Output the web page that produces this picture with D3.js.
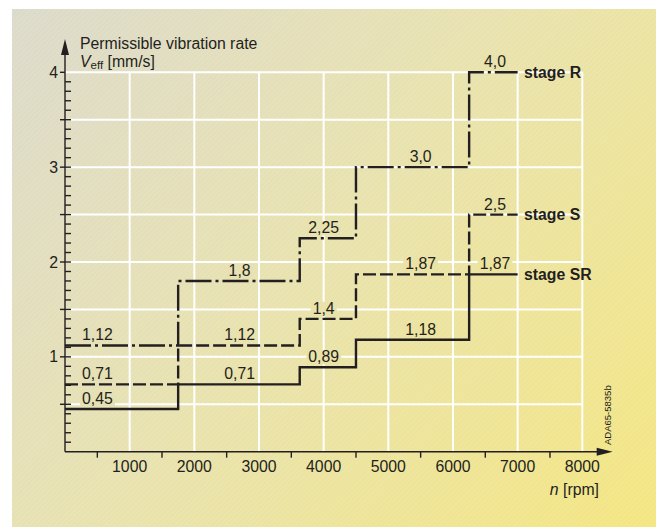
<!DOCTYPE html>
<html>
<head>
<meta charset="utf-8">
<script src="https://cdn.jsdelivr.net/npm/d3@7"></script>
<style>
  body { margin: 0; background: #fff; }
  text { font-family: "Liberation Sans", Arial, sans-serif; fill: #231f20; }
</style>
</head>
<body>
<div id="chart"></div>
<script>
// values
var rpmBreaks = [0, 1750, 3630, 4500, 6250, 7000];
var stageNames = ["stage R", "stage S", "stage SR"];
var stageR = [1.12, 1.8, 2.25, 3.0, 4.0];
var stageS = [0.71, 1.12, 1.4, 1.87, 2.5];
var stageSR = [0.45, 0.71, 0.89, 1.18, 1.87];
var labelRpm = [500, 2700, 4000, 5500, 6650];
var xTicks = [1000, 2000, 3000, 4000, 5000, 6000, 7000, 8000];
var yTicks = [1, 2, 3, 4];

var width = 656, height = 527;
var fs = 15.8;
var svg = d3.select("#chart").append("svg")
    .attr("width", width)
    .attr("height", height);

var defs = svg.append("defs");
var grad = defs.append("linearGradient").attr("id", "bg")
    .attr("gradientUnits", "userSpaceOnUse")
    .attr("x1", 12).attr("y1", 9).attr("x2", 656).attr("y2", 527);
grad.append("stop").attr("offset", 0).attr("stop-color", "#dcdacb");
grad.append("stop").attr("offset", 0.45).attr("stop-color", "#e8e2b0");
grad.append("stop").attr("offset", 1).attr("stop-color", "#f4e682");

var hatch = defs.append("pattern").attr("id", "hatch")
    .attr("patternUnits", "userSpaceOnUse")
    .attr("width", 5).attr("height", 5);
hatch.append("path").attr("d", "M0,5 L5,0 M-1,1 L1,-1 M4,6 L6,4")
    .attr("stroke", "#ffffff").attr("stroke-opacity", 0.18).attr("stroke-width", 0.7);

svg.append("rect").attr("x", 12).attr("y", 9).attr("width", width - 12).attr("height", height - 9)
    .attr("fill", "url(#bg)");
svg.append("rect").attr("x", 12).attr("y", 9).attr("width", width - 12).attr("height", height - 9)
    .attr("fill", "url(#hatch)");

var x = d3.scaleLinear().domain([0, 8000]).range([65, 582.3]);
var y = d3.scaleLinear().domain([0, 4]).range([451.7, 72.3]);

// white grid
var grid = svg.append("g").attr("stroke", "#ffffff").attr("stroke-width", 2);
grid.selectAll("line.h").data(d3.range(0.5, 4.01, 0.5)).enter().append("line")
    .attr("x1", x(0)).attr("x2", x(8000))
    .attr("y1", function (d) { return y(d); }).attr("y2", function (d) { return y(d); });
grid.selectAll("line.v").data(xTicks).enter().append("line")
    .attr("x1", function (d) { return x(d); }).attr("x2", function (d) { return x(d); })
    .attr("y1", y(0)).attr("y2", y(4));

// axes
var axes = svg.append("g").attr("stroke", "#231f20").attr("stroke-width", 1.4).attr("fill", "none");
axes.append("line").attr("x1", x(0)).attr("x2", x(0)).attr("y1", y(0)).attr("y2", 52);
axes.append("line").attr("x1", x(0)).attr("x2", 600).attr("y1", y(0)).attr("y2", y(0));
svg.append("path").attr("d", "M" + x(0) + ",39 L" + (x(0) + 4) + ",55 L" + (x(0) - 4) + ",55 Z")
    .attr("fill", "#231f20");
svg.append("path").attr("d", "M612.7," + y(0) + " L596.7," + (y(0) - 4) + " L596.7," + (y(0) + 4) + " Z")
    .attr("fill", "#231f20");

// y minor ticks (right) and half ticks (left)
axes.selectAll("line.ym").data(d3.range(1, 40)).enter().append("line")
    .attr("x1", x(0)).attr("x2", x(0) + 6)
    .attr("y1", function (d) { return y(d / 10); }).attr("y2", function (d) { return y(d / 10); });
axes.selectAll("line.yh").data(d3.range(1, 9)).enter().append("line")
    .attr("x1", x(0) - 5).attr("x2", x(0))
    .attr("y1", function (d) { return y(d / 2); }).attr("y2", function (d) { return y(d / 2); });
// x ticks at odd 500s
axes.selectAll("line.xt").data(d3.range(500, 8000, 1000)).enter().append("line")
    .attr("x1", function (d) { return x(d); }).attr("x2", function (d) { return x(d); })
    .attr("y1", y(0)).attr("y2", y(0) + 6);

svg.selectAll("text.yl").data(yTicks).enter().append("text")
    .attr("x", 58).attr("y", function (d) { return y(d) + 5.5; })
    .attr("text-anchor", "end").attr("font-size", fs)
    .text(function (d) { return d; });
svg.selectAll("text.xl").data(xTicks).enter().append("text")
    .attr("x", function (d) { return x(d); }).attr("y", 471.5)
    .attr("text-anchor", "middle").attr("font-size", fs)
    .text(function (d) { return d; });

// titles
svg.append("text").attr("x", 80).attr("y", 49).attr("font-size", fs).text("Permissible vibration rate");
var t2 = svg.append("text").attr("x", 80).attr("y", 66.5).attr("font-size", fs);
t2.append("tspan").attr("font-style", "italic").text("V");
t2.append("tspan").attr("font-size", 11.5).attr("dy", 2).text("eff");
t2.append("tspan").attr("dy", -2).text(" [mm/s]");

var t3 = svg.append("text").attr("x", 599).attr("y", 495).attr("font-size", fs).attr("text-anchor", "end");
t3.append("tspan").attr("font-style", "italic").text("n");
t3.append("tspan").text(" [rpm]");

svg.append("text").attr("transform", "translate(611,445) rotate(-90)")
    .attr("font-size", 9.5).text("ADA65-5835b");

// stage lines
var series = [
    { name: stageNames[0], values: stageR, dash: "26,4,3,4" },
    { name: stageNames[1], values: stageS, dash: "13,4" },
    { name: stageNames[2], values: stageSR, dash: null }
];

var line = d3.line()
    .x(function (d) { return x(d[0]); })
    .y(function (d) { return y(d[1]); })
    .curve(d3.curveStepAfter);

function fmt(v) {
    return Number.isInteger(v) ? v + ",0" : String(v).replace(".", ",");
}

var labelLayer = svg.append("g");
var lineLayer = svg.append("g");

series.forEach(function (s) {
    var pts = rpmBreaks.map(function (r, i) {
        return [r, s.values[Math.min(i, s.values.length - 1)]];
    });
    lineLayer.append("path").datum(pts)
        .attr("d", line)
        .attr("fill", "none")
        .attr("stroke", "#231f20")
        .attr("stroke-width", 2.4)
        .attr("stroke-dasharray", s.dash);

    s.values.forEach(function (v, i) {
        var t = labelLayer.append("text")
            .attr("x", x(labelRpm[i])).attr("y", y(v) - 5)
            .attr("text-anchor", "middle").attr("font-size", fs)
            .text(fmt(v));
        var b = t.node().getBBox();
        labelLayer.insert("rect", "text")
            .attr("x", b.x - 2).attr("y", b.y + 2).attr("width", b.width + 4).attr("height", b.height - 3)
            .attr("fill", "url(#bg)");
    });

    lineLayer.append("text")
        .attr("x", 524).attr("y", y(s.values[s.values.length - 1]) + 5.5)
        .attr("font-size", fs).attr("font-weight", "bold")
        .text(s.name);
});
</script>
</body>
</html>
